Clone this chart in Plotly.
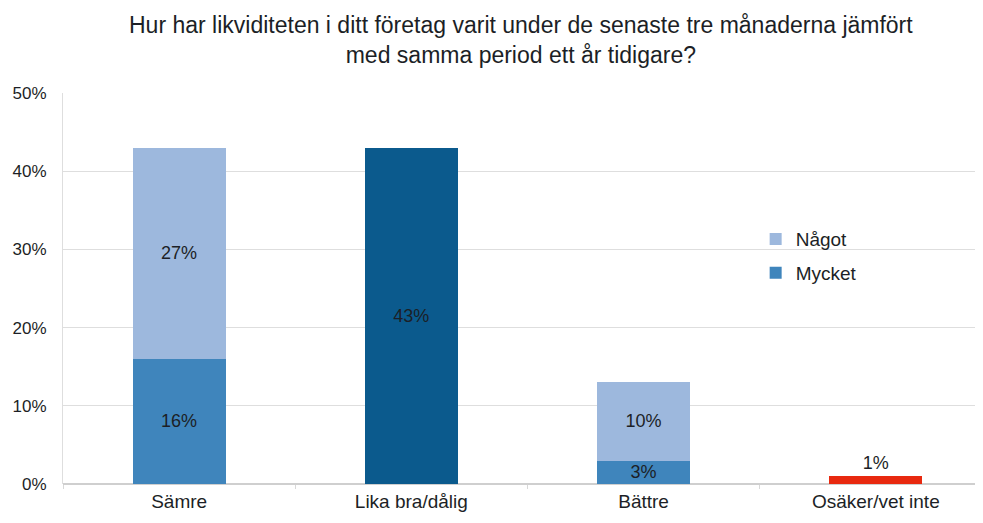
import plotly.graph_objects as go

categories = ["Sämre", "Lika bra/dålig", "Bättre", "Osäker/vet inte"]
mycket = [16, None, 3, None]
nagot = [27, None, 10, None]
lika = [None, 43, None, None]
osaker = [None, None, None, 1]

FONT = "Liberation Sans, Arial, sans-serif"
TXT = "#1c1f26"

def labels(vals):
    return [f"{v}%" if v else "" for v in vals]

fig = go.Figure()

fig.add_trace(go.Bar(
    x=categories, y=mycket, name="Mycket", legendgroup="b", legendrank=2,
    marker=dict(color="#3F85BC", line=dict(width=0)),
    text=labels(mycket), textposition="inside", insidetextanchor="middle",
    constraintext="none",
    textfont=dict(color=TXT, size=18, family=FONT),
))
fig.add_trace(go.Bar(
    x=categories, y=nagot, name="Något", legendgroup="a", legendrank=1,
    marker=dict(color="#9DB8DD", line=dict(width=0)),
    text=labels(nagot), textposition="inside", insidetextanchor="middle",
    constraintext="none",
    textfont=dict(color=TXT, size=18, family=FONT),
))
fig.add_trace(go.Bar(
    x=categories, y=lika, name="Lika", showlegend=False,
    marker=dict(color="#0B5A8D", line=dict(width=0)),
    text=labels(lika), textposition="inside", insidetextanchor="middle",
    constraintext="none",
    textfont=dict(color=TXT, size=18, family=FONT),
))
fig.add_trace(go.Bar(
    x=categories, y=osaker, name="Osäker", showlegend=False,
    marker=dict(color="#E8290F", line=dict(width=0)),
    text=labels(osaker), textposition="outside", cliponaxis=False,
    constraintext="none",
    textfont=dict(color=TXT, size=18, family=FONT),
))

# page body adds 8px margin, so the figure is sized to fit the window
fig.update_layout(
    width=975, height=515,
    barmode="stack", bargap=0.6,
    plot_bgcolor="white", paper_bgcolor="white",
    font=dict(family=FONT, size=17, color=TXT),
    margin=dict(l=52, r=5, t=85, b=39),
    legend=dict(
        x=0.757, y=0.675, xanchor="left", yanchor="top",
        traceorder="grouped", tracegroupgap=6,
        font=dict(size=19, family=FONT, color=TXT),
        bgcolor="rgba(0,0,0,0)", itemwidth=30,
    ),
    annotations=[dict(
        text="Hur har likviditeten i ditt företag varit under de senaste tre månaderna jämfört<br>med samma period ett år tidigare?",
        xref="paper", yref="paper", x=0.5, y=1.212,
        xanchor="center", yanchor="top", showarrow=False,
        font=dict(size=23, family=FONT, color=TXT),
    )],
)
fig.update_xaxes(
    range=[-0.5, 3.44], showgrid=False, showline=False,
    ticks="outside", tickson="boundaries", ticklen=4, tickcolor="#D8D8D8",
    tickfont=dict(size=19, family=FONT), ticklabelstandoff=4,
)
fig.update_yaxes(
    range=[0, 50], dtick=10, ticksuffix="%", showgrid=True,
    gridcolor="#DEDEDE", gridwidth=1, zeroline=True, zerolinecolor="#CFCFCF",
    showline=True, linecolor="#DEDEDE",
    tickfont=dict(size=17, family=FONT), ticklabelstandoff=12,
)

fig.write_html("out.html")
